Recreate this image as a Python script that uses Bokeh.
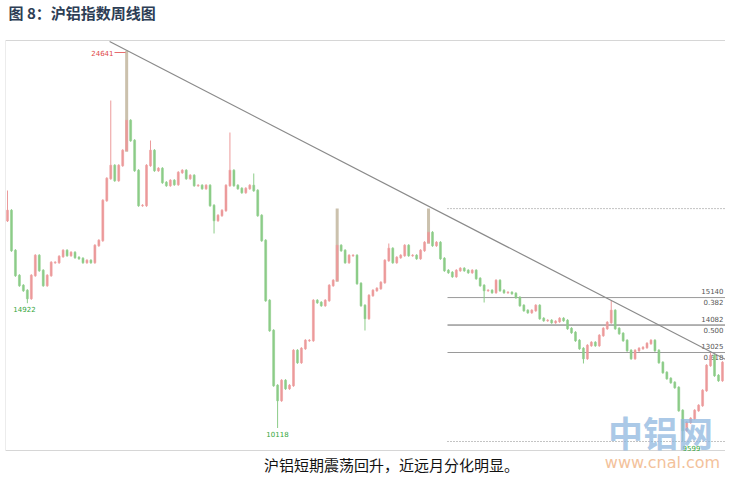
from bokeh.plotting import figure
from bokeh.models import Range1d, ColumnDataSource
from bokeh.core.properties import value
from bokeh.embed import file_html
from bokeh.resources import INLINE

# ---- data (weekly closes) ----
closes = [18492, 16952, 15990, 15605, 15412, 15104, 15990, 16760, 16182, 15605,
          15990, 16490, 16490, 16721, 16952, 16760, 16875, 16683, 16644, 16490,
          16567, 16490, 17145, 17337, 18877, 19724, 20225, 19647, 20225, 20802,
          21957, 21187, 20032, 18685, 18685, 20225, 20802, 20032, 20109, 19570,
          19455, 19647, 19493, 19955, 20032, 19724, 19840, 19455, 19455, 19339,
          19455, 18685, 18107, 18300, 18492, 19455, 20032, 19455, 19339, 19185,
          19339, 19455, 19262, 18300, 17337, 15027, 13872, 11755, 11177, 11947,
          11639, 11755, 13102, 12640, 13179, 13487, 13487, 15027, 14950, 14835,
          15027, 15605, 15797, 17145, 16952, 16490, 16760, 16760, 15682, 14835,
          14334, 15220, 15412, 15489, 15720, 16567, 17029, 16490, 16683, 16760,
          17145, 16760, 16760, 16644, 16952, 17260, 17645, 17145, 17260, 16644,
          16182, 16105, 15951, 16182, 16259, 16182, 16105, 16182, 15874, 15605,
          15412, 15412, 15335, 15797, 15412, 15335, 15335, 15297, 15143, 14835,
          14642, 14565, 14642, 14835, 14334, 14257, 14257, 14180, 14219, 14334,
          14257, 13949, 13795, 13487, 13179, 12794, 13295, 13410, 13295, 13680,
          13949, 14180, 14642, 13949, 13757, 13487, 13102, 12794, 13102, 13179,
          13218, 13372, 13487, 13102, 12640, 12255, 12024, 11870, 11678, 10792,
          10022, 10330, 10484, 10792, 10985, 11562, 12525, 12910, 12140, 11947,
          12640]
first_open = 18100
high_marks = {0: 19262, 26: 22727, 30: 24641, 36: 21187, 56: 21495, 62: 19917,
              83: 18569, 96: 17222, 106: 18565, 152: 15027, 177: 13025}
low_marks = {5: 14922, 52: 17607, 68: 10118, 90: 13872, 120: 14950, 145: 12602, 170: 9599}

fib_prices = [18565, 15140, 14082, 13025, 9599]
fib_ratios = ["0.000", "0.382", "0.500", "0.618", "1.000"]
trend_idx = [25.7, 180.8]
trend_price = [24998, 12755]

extreme_labels = ["24641", "14922", "10118", "9599"]
title_text = "图 8：沪铝指数周线图"
caption_text = "沪铝短期震荡回升，近远月分化明显。"

# ---- layout helpers (pixel position -> data coordinate) ----
W, H = 725, 475
PX_PER_BAR = 3.972
def xi(px):
    return (px - 7) / PX_PER_BAR
def yp(py):
    return 13025 + (352 - py) * 38.5

# ---- build candles ----
WICK = 50
opens = [first_open] + closes[:-1]
idx = list(range(len(closes)))
highs, lows = [], []
for i, (o, c) in enumerate(zip(opens, closes)):
    highs.append(high_marks.get(i, max(o, c) + WICK))
    lows.append(low_marks.get(i, min(o, c) - WICK))

UP, DOWN, BEIGE = "#ec9a9b", "#8ccc88", "#cbc1ad"
colors = [UP if c >= o else DOWN for o, c in zip(opens, closes)]
special = (30, 83, 106)
wick_colors = [BEIGE if i in special else col for i, col in enumerate(colors)]
wick_widths = [3 if i in special else 1 for i in idx]
tops = [max(o, c) + 12 for o, c in zip(opens, closes)]
bots = [min(o, c) - 12 for o, c in zip(opens, closes)]

src = ColumnDataSource(dict(x=idx, h=highs, l=lows, top=tops, bot=bots,
                            col=colors, wcol=wick_colors, ww=wick_widths))

p = figure(width=W, height=H, x_range=Range1d(xi(0), xi(W)),
           y_range=Range1d(yp(H), yp(0)), output_backend="svg",
           toolbar_location=None, x_axis_type=None, y_axis_type=None,
           min_border=0)
p.grid.visible = False
p.outline_line_color = None
p.background_fill_color = "white"

# chart frame
p.line([xi(5), xi(W)], [yp(40), yp(40)], line_color="#d6d6d6", line_width=1)
p.line([xi(5), xi(W)], [yp(450), yp(450)], line_color="#d6d6d6", line_width=1)
p.line([xi(5), xi(5)], [yp(40), yp(450)], line_color="#ececec", line_width=1)

# fib levels
fx0, fx1 = xi(447), xi(W)
for k, fp in enumerate(fib_prices):
    if k in (0, 4):
        p.line([fx0, fx1], [fp, fp], line_color="#888888", line_width=1, line_dash="1 2")
    else:
        p.line([fx0, fx1], [fp, fp], line_color="#666666" if k == 2 else "#9a9a9a",
               line_width=1)
for k in (1, 2, 3):
    p.text([xi(723)], [fib_prices[k] + 120], text=[str(fib_prices[k])], text_align="right",
           text_baseline="bottom", text_font_size="7px", text_color="#555555",
           text_font=value("DejaVu Sans"))
    p.text([xi(723)], [fib_prices[k] - 60], text=[fib_ratios[k]], text_align="right",
           text_baseline="top", text_font_size="7px", text_color="#555555",
           text_font=value("DejaVu Sans"))

# candles
p.segment(x0="x", y0="h", x1="x", y1="l", line_color="wcol", line_width="ww", source=src)
p.vbar(x="x", top="top", bottom="bot", width=0.5, fill_color="col", line_color="col",
       line_width=0.5, source=src)

# trend line
p.line(trend_idx, trend_price, line_color="#8a8a8a", line_width=1.2)

# extreme labels
lab = dict(text_font_size="7px", text_font=value("DejaVu Sans"), text_baseline="middle")
p.text([xi(113)], [yp(52)], text=[extreme_labels[0]], text_align="right",
       text_color="#e04848", **lab)
p.line([xi(114), xi(125)], [yp(52), yp(52)], line_color="#e04848", line_width=0.8)
p.text([xi(24)], [yp(308)], text=[extreme_labels[1]], text_align="center",
       text_color="#33a63a", **lab)
p.text([xi(277)], [yp(433)], text=[extreme_labels[2]], text_align="center",
       text_color="#33a63a", **lab)
p.text([xi(691)], [yp(447)], text=[extreme_labels[3]], text_align="center",
       text_color="#33a63a", **lab)

# watermark
p.text([xi(660)], [yp(431)], text=["中铝网"], text_align="center", text_baseline="middle",
       text_font_size="35px", text_font_style="bold", text_color="#8fb8e0", text_alpha=0.75,
       text_font=value("Noto Sans CJK SC"))
p.text([xi(662)], [yp(462)], text=["www.cnal.com"], text_align="center",
       text_baseline="middle", text_font_size="16px", text_color="#f3c29b",
       text_font=value("DejaVu Sans"))

# title and caption
p.text([xi(8)], [yp(12)], text=[title_text], text_align="left", text_baseline="middle",
       text_font_size="15px", text_font_style="bold", text_color="#2d3e55",
       text_font=value("Noto Sans CJK SC"))
p.text([xi(391)], [yp(464)], text=[caption_text], text_align="center",
       text_baseline="middle", text_font_size="15px", text_color="#111111",
       text_font=value("Noto Sans CJK SC"))

open("out.html", "w").write(file_html(p, INLINE))
